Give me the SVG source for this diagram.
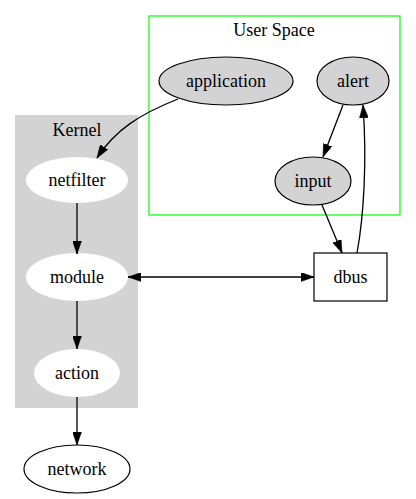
<svg xmlns="http://www.w3.org/2000/svg" width="416" height="499" viewBox="0 0 416 499">
<style>
text{font-family:"Liberation Serif","Times New Roman",serif;font-size:18px;text-anchor:middle;fill:#000}
.gray{fill:#d3d3d3;stroke:#000;stroke-width:1.2}
.white{fill:#fff;stroke:none}
.plain{fill:#fff;stroke:#000;stroke-width:1.2}
.edge{fill:none;stroke:#000;stroke-width:1.3;marker-end:url(#ah)}
</style>
<defs>
<marker id="ah" viewBox="0 0 13 9" refX="13" refY="4.5" markerWidth="13" markerHeight="9" markerUnits="userSpaceOnUse" orient="auto-start-reverse">
<path d="M0,0 L13,4.5 L0,9 Z" fill="#000" stroke="#000" stroke-width="0.5"/>
</marker>
</defs>
<rect width="416" height="499" fill="#fff"/>
<g id="cluster_user">
<rect x="149" y="16" width="251" height="199" fill="none" stroke="#00ff00" stroke-width="1.2"/>
<text x="274" y="36">User Space</text>
</g>
<g id="cluster_kernel">
<rect x="15" y="115" width="123" height="293" fill="#d3d3d3"/>
<text x="77" y="136">Kernel</text>
</g>
<g id="application"><ellipse class="gray" cx="226" cy="81" rx="67" ry="24"/><text x="226" y="87">application</text></g>
<g id="alert"><ellipse class="gray" cx="353" cy="81" rx="36" ry="24"/><text x="353" y="87">alert</text></g>
<g id="input"><ellipse class="gray" cx="313" cy="181" rx="38" ry="24"/><text x="313" y="187">input</text></g>
<g id="netfilter"><ellipse class="white" cx="77" cy="180" rx="51" ry="23"/><text x="77" y="186">netfilter</text></g>
<g id="module"><ellipse class="white" cx="77" cy="277" rx="51" ry="24"/><text x="77" y="283">module</text></g>
<g id="action"><ellipse class="white" cx="77" cy="373" rx="43" ry="24"/><text x="77" y="379">action</text></g>
<g id="network"><ellipse class="plain" cx="77" cy="469" rx="53" ry="24"/><text x="77" y="475">network</text></g>
<g id="dbus"><rect class="plain" x="314" y="253" width="73" height="48"/><text x="350.5" y="283">dbus</text></g>
<g id="edges">
<path class="edge" d="M178,99 C140,114 115,130 97,158"/>
<path class="edge" d="M77,203 L77,254"/>
<path class="edge" d="M77,301 L77,349"/>
<path class="edge" d="M77,397 L77,445"/>
<path class="edge" d="M128,277 L314,277" style="marker-start:url(#ah)"/>
<path class="edge" d="M343,105 L323,157"/>
<path class="edge" d="M322,205 L342,253"/>
<path class="edge" d="M357,253 C364,215 367,160 363,105"/>
</g>
</svg>
